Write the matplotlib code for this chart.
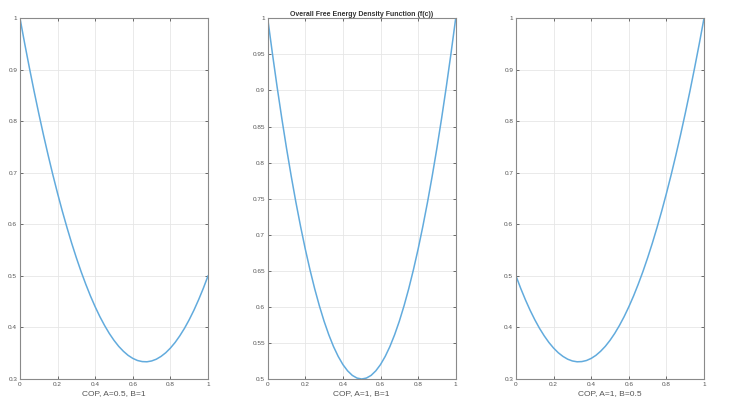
import matplotlib
matplotlib.use("Agg")
import matplotlib.pyplot as plt

c = [0, 0.025, 0.05, 0.075, 0.1, 0.125, 0.15, 0.175, 0.2, 0.225, 0.25,
     0.275, 0.3, 0.325, 0.35, 0.375, 0.4, 0.425, 0.45, 0.475, 0.5,
     0.525, 0.55, 0.575, 0.6, 0.625, 0.65, 0.675, 0.7, 0.725, 0.75,
     0.775, 0.8, 0.825, 0.85, 0.875, 0.9, 0.925, 0.95, 0.975, 1]

f_left = [1.0, 0.9509, 0.9038, 0.8584, 0.815, 0.7734, 0.7338, 0.6959, 0.66,
          0.6259, 0.5938, 0.5634, 0.535, 0.5084, 0.4838, 0.4609, 0.44, 0.4209,
          0.4038, 0.3884, 0.375, 0.3634, 0.3538, 0.3459, 0.34, 0.3359, 0.3338,
          0.3334, 0.335, 0.3384, 0.3438, 0.3509, 0.36, 0.3709, 0.3838, 0.3984,
          0.415, 0.4334, 0.4538, 0.4759, 0.5]
f_mid = [1.0, 0.9513, 0.905, 0.8613, 0.82, 0.7813, 0.745, 0.7113, 0.68,
         0.6513, 0.625, 0.6013, 0.58, 0.5613, 0.545, 0.5313, 0.52, 0.5113,
         0.505, 0.5013, 0.5, 0.5013, 0.505, 0.5113, 0.52, 0.5313, 0.545,
         0.5613, 0.58, 0.6013, 0.625, 0.6513, 0.68, 0.7113, 0.745, 0.7813,
         0.82, 0.8613, 0.905, 0.9513, 1.0]
f_right = [0.5, 0.4759, 0.4538, 0.4334, 0.415, 0.3984, 0.3838, 0.3709, 0.36,
           0.3509, 0.3438, 0.3384, 0.335, 0.3334, 0.3338, 0.3359, 0.34, 0.3459,
           0.3538, 0.3634, 0.375, 0.3884, 0.4038, 0.4209, 0.44, 0.4609, 0.4838,
           0.5084, 0.535, 0.5634, 0.5938, 0.6259, 0.66, 0.6959, 0.7338, 0.7734,
           0.815, 0.8584, 0.9038, 0.9509, 1.0]

xlabels = ["COP, A=0.5, B=1", "COP, A=1, B=1", "COP, A=1, B=0.5"]
title = "Overall Free Energy Density Function (f(c))"

x_ticks = [0, 0.2, 0.4, 0.6, 0.8, 1]
x_ticklabels = ["0", "0.2", "0.4", "0.6", "0.8", "1"]
y_ticks_side = [0.3, 0.4, 0.5, 0.6, 0.7, 0.8, 0.9, 1]
y_ticklabels_side = ["0.3", "0.4", "0.5", "0.6", "0.7", "0.8", "0.9", "1"]
y_ticks_mid = [0.5, 0.55, 0.6, 0.65, 0.7, 0.75, 0.8, 0.85, 0.9, 0.95, 1]
y_ticklabels_mid = ["0.5", "0.55", "0.6", "0.65", "0.7", "0.75", "0.8",
                    "0.85", "0.9", "0.95", "1"]

plt.rcParams['font.family'] = ['Liberation Sans', 'DejaVu Sans']

fig = plt.figure(figsize=(7.36, 4.0), dpi=100)
W, H = 736, 400
lefts = [20, 267.7, 516]
width = 188
top, bottom = 18.3, 379

series = [f_left, f_mid, f_right]
yt = [(y_ticks_side, y_ticklabels_side, (0.3, 1)),
      (y_ticks_mid, y_ticklabels_mid, (0.5, 1)),
      (y_ticks_side, y_ticklabels_side, (0.3, 1))]

line_color = '#62abdd'
spine_color = '#8a8a8a'

for i in range(3):
    ax = fig.add_axes([lefts[i] / W, (H - bottom) / H, width / W, (bottom - top) / H])
    ax.plot(c, series[i], color=line_color, linewidth=1.1)
    ax.set_xlim(0, 1)
    ax.set_ylim(*yt[i][2])
    ax.set_xticks(x_ticks)
    ax.set_xticklabels(x_ticklabels)
    ax.set_yticks(yt[i][0])
    ax.set_yticklabels(yt[i][1])
    ax.grid(True, color='#e6e6e6', linewidth=0.6)
    ax.set_axisbelow(True)
    ax.tick_params(direction='in', length=2.5, width=0.6, colors='#555555',
                   labelsize=4.6, pad=2, top=True, right=True,
                   labelcolor='#555555')
    for s in ax.spines.values():
        s.set_color(spine_color)
        s.set_linewidth(0.8)
    ax.set_xlabel(xlabels[i], fontsize=6, color='#555555', labelpad=2)
    if i == 1:
        ax.set_title(title, fontsize=5, fontweight='bold', color='#333333', pad=2)

fig.savefig("out.png", dpi=100)
